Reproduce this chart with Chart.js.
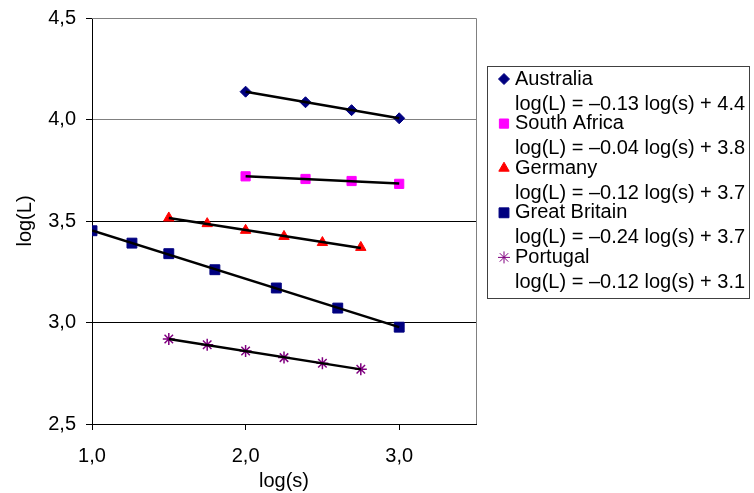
<!DOCTYPE html>
<html>
<head>
<meta charset="utf-8">
<script src="https://cdn.jsdelivr.net/npm/chart.js@4/dist/chart.umd.min.js"></script>
<style>
  html, body { margin: 0; padding: 0; background: #fff; }
</style>
</head>
<body>
<canvas id="chart" width="754" height="493"></canvas>
<script>
// data
const countries = ['Australia', 'South Africa', 'Germany', 'Great Britain', 'Portugal'];
const equations = [
  'log(L) = \u20130.13 log(s) + 4.4',
  'log(L) = \u20130.04 log(s) + 3.8',
  'log(L) = \u20130.12 log(s) + 3.7',
  'log(L) = \u20130.24 log(s) + 3.7',
  'log(L) = \u20130.12 log(s) + 3.1'
];
const australiaX = [2.0, 2.39, 2.69, 3.0];
const australiaY = [4.137, 4.085, 4.046, 4.006];
const southAfricaX = [2.0, 2.39, 2.69, 3.0];
const southAfricaY = [3.72, 3.707, 3.697, 3.683];
const germanyX = [1.5, 1.75, 2.0, 2.25, 2.5, 2.75];
const germanyY = [3.515, 3.487, 3.454, 3.424, 3.394, 3.37];
const britainX = [1.0, 1.26, 1.5, 1.8, 2.2, 2.6, 3.0];
const britainY = [3.452, 3.391, 3.339, 3.26, 3.17, 3.071, 2.977];
const portugalX = [1.5, 1.75, 2.0, 2.25, 2.5, 2.75];
const portugalY = [2.919, 2.89, 2.86, 2.827, 2.799, 2.77];
const xTicks = [1, 2, 3];
const yTicks = [2.5, 3, 3.5, 4, 4.5];

const FONT = 'Liberation Sans, Arial, sans-serif';

const series = [
  { xs: australiaX, ys: australiaY, color: '#000080', style: 'rectRot', radius: 5.5, bw: 1 },
  { xs: southAfricaX, ys: southAfricaY, color: '#FF00FF', style: 'rect', radius: 6.5, bw: 1 },
  { xs: germanyX, ys: germanyY, color: '#FF0000', style: 'triangle', radius: 6, bw: 1 },
  { xs: britainX, ys: britainY, color: '#000080', style: 'rect', radius: 7, bw: 1 },
  { xs: portugalX, ys: portugalY, color: '#800080', style: 'star', radius: 6, bw: 1.5 }
];

// least squares trend line over the range of the points
function fitLine(xs, ys) {
  const n = xs.length;
  const mx = xs.reduce((a, b) => a + b, 0) / n;
  const my = ys.reduce((a, b) => a + b, 0) / n;
  let sxy = 0, sxx = 0;
  for (let i = 0; i < n; i++) {
    sxy += (xs[i] - mx) * (ys[i] - my);
    sxx += (xs[i] - mx) * (xs[i] - mx);
  }
  const b = sxy / sxx, a = my - b * mx;
  const x0 = Math.min(...xs), x1 = Math.max(...xs);
  return [{ x: x0, y: a + b * x0 }, { x: x1, y: a + b * x1 }];
}

const datasets = [];
series.forEach((s, i) => {
  datasets.push({
    label: countries[i],
    data: s.xs.map((x, j) => ({ x: x, y: s.ys[j] })),
    pointStyle: s.style,
    pointRadius: s.radius,
    pointBackgroundColor: s.color,
    pointBorderColor: s.color,
    pointBorderWidth: s.bw,
    showLine: false,
    order: 2
  });
  datasets.push({
    label: equations[i],
    data: fitLine(s.xs, s.ys),
    showLine: true,
    borderColor: '#000',
    borderWidth: 2.5,
    pointRadius: 0,
    order: 1
  });
});

const fmt = v => Number(v).toFixed(1).replace('.', ',');

const frame = {
  id: 'frame',
  afterDatasetsDraw(chart) {
    const { ctx, chartArea: a } = chart;
    ctx.save();
    ctx.strokeStyle = '#808080';
    ctx.lineWidth = 1;
    ctx.beginPath();
    ctx.moveTo(Math.round(a.left), Math.round(a.top) + 0.5);
    ctx.lineTo(Math.round(a.right) + 0.5, Math.round(a.top) + 0.5);
    ctx.lineTo(Math.round(a.right) + 0.5, Math.round(a.bottom));
    ctx.stroke();
    ctx.restore();
  }
};

const boxLegend = {
  id: 'boxLegend',
  afterDraw(chart) {
    const ctx = chart.ctx;
    ctx.save();
    ctx.strokeStyle = '#404040';
    ctx.lineWidth = 1;
    ctx.strokeRect(487.5, 66.5, 262, 232);
    ctx.font = '20px ' + FONT;
    ctx.fillStyle = '#000';
    ctx.textBaseline = 'middle';
    ctx.textAlign = 'left';
    series.forEach((s, i) => {
      const y = 79 + i * 44.6;
      ctx.fillStyle = s.color;
      ctx.strokeStyle = s.color;
      Chart.helpers.drawPoint(ctx, {
        pointStyle: s.style, radius: s.radius, borderWidth: s.bw, rotation: 0
      }, 504, y);
      ctx.fillStyle = '#000';
      ctx.fillText(countries[i], 515, y);
      ctx.fillText(equations[i], 515, y + 25);
    });
    ctx.restore();
  }
};

new Chart(document.getElementById('chart'), {
  type: 'scatter',
  data: { datasets },
  options: {
    responsive: false,
    animation: false,
    devicePixelRatio: 1,
    layout: { padding: { top: 18, right: 278, left: 0, bottom: 0 } },
    plugins: { legend: { display: false }, tooltip: { enabled: false } },
    scales: {
      x: {
        type: 'linear',
        min: 1,
        max: 3.5,
        afterBuildTicks: s => { s.ticks = xTicks.map(v => ({ value: v })); },
        afterFit: s => { s.height = 69; s.paddingLeft = 0; s.paddingRight = 0; },
        ticks: { callback: fmt, color: '#000', font: { family: FONT, size: 20 }, padding: 14, maxRotation: 0 },
        grid: { drawOnChartArea: false, tickLength: 6, tickColor: '#000' },
        border: { color: '#000', width: 1 },
        title: { display: true, text: 'log(s)', color: '#000', font: { family: FONT, size: 20 }, padding: { top: 0, bottom: 0 } }
      },
      y: {
        type: 'linear',
        min: 2.5,
        max: 4.5,
        afterBuildTicks: s => { s.ticks = yTicks.map(v => ({ value: v })); },
        afterFit: s => { s.width = 92; s.paddingTop = 0; s.paddingBottom = 0; },
        ticks: { callback: fmt, color: '#000', font: { family: FONT, size: 20 }, padding: 10 },
        grid: {
          color: c => (c.tick && c.tick.value >= 4 ? '#808080' : '#000'),
          tickColor: '#000',
          tickLength: 6
        },
        border: { color: '#000', width: 1 },
        title: { display: true, text: 'log(L)', color: '#000', font: { family: FONT, size: 20 }, padding: { top: 13, bottom: 0 } }
      }
    }
  },
  plugins: [frame, boxLegend]
});
</script>
</body>
</html>
